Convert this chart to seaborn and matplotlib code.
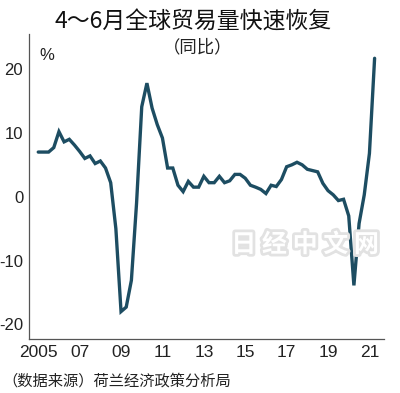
import numpy as np
import pandas as pd
import matplotlib
matplotlib.use("Agg")
import matplotlib.pyplot as plt
import matplotlib.patheffects as pe
import seaborn as sns

# ---- data ----
years = list(range(2005, 2022))
quarters = [1, 2, 3, 4]
growth = [
    7.0, 7.0, 7.0, 7.7,      # 2005
    10.2, 8.6, 9.0, 8.1,     # 2006
    7.1, 6.0, 6.4, 5.2,      # 2007
    5.6, 4.5, 2.2, -5.0,     # 2008
    -18.0, -17.3, -13.1, -1.0,  # 2009
    14.1, 17.8, 13.9, 11.3,  # 2010
    9.2, 4.5, 4.5, 1.8,      # 2011
    0.8, 2.4, 1.5, 1.5,      # 2012
    3.2, 2.2, 2.2, 3.2,      # 2013
    2.2, 2.5, 3.5, 3.5,      # 2014
    2.9, 1.8, 1.5, 1.15,     # 2015
    0.5, 1.8, 1.6, 2.7,      # 2016
    4.7, 5.0, 5.4, 5.0,      # 2017
    4.3, 4.1, 3.9, 2.1,      # 2018
    0.95, 0.3, -0.6, -0.4,   # 2019
    -3.0, -13.9, -4.2, 0.3,  # 2020
    6.8, 21.7,               # 2021
]
x_ticks = [2005, 2007, 2009, 2011, 2013, 2015, 2017, 2019, 2021]
x_tick_labels = ["2005", "07", "09", "11", "13", "15", "17", "19", "21"]
y_ticks = [-20, -10, 0, 10, 20]
y_tick_labels = ["-20", "-10", "0", "10", "20"]
title = "4～6月全球贸易量快速恢复"
subtitle = "（同比）"
unit = "%"
source = "（数据来源）荷兰经济政策分析局"
watermark = "日 经 中 文 网"

periods = [(y, q) for y in years for q in quarters][:len(growth)]
df = pd.DataFrame({
    "time": [y + (q - 1) / 4 for y, q in periods],
    "growth": growth,
})

sns.set_theme(style="white")
plt.rcParams["font.family"] = ["Noto Sans CJK SC", "DejaVu Sans"]
num_font = ["Liberation Sans Narrow", "Liberation Sans", "DejaVu Sans"]

fig = plt.figure(figsize=(4.0, 3.93), dpi=100)
fig.patch.set_facecolor("white")
ax = fig.add_axes([0.0718, 0.1374, 0.888, 0.776])
ax.set_facecolor("white")

sns.lineplot(data=df, x="time", y="growth", ax=ax, color="#1d4d62",
             linewidth=2.4, solid_joinstyle="miter")

ax.set_xlim(2004.54, 2021.70)
ax.set_ylim(-22.3, 25.5)
ax.set_xlabel("")
ax.set_ylabel("")

for s in ["top", "right"]:
    ax.spines[s].set_visible(False)
for s in ["left", "bottom"]:
    ax.spines[s].set_color("#555555")
    ax.spines[s].set_linewidth(0.9)

ax.set_xticks(x_ticks)
ax.set_xticklabels(x_tick_labels, family=num_font, fontsize=12.5, color="#222222")
ax.set_yticks(y_ticks)
ax.set_yticklabels(y_tick_labels, family=num_font, fontsize=12, color="#222222")
ax.tick_params(axis="x", direction="in", length=3, width=0.9, color="#555555", pad=4)
ax.tick_params(axis="y", direction="out", length=3, width=0.9, color="#555555", pad=1)

fig.text(0.483, 1 - 22 / 393, title, ha="center", va="center", fontsize=16.5, color="#111111")
fig.text(0.495, 1 - 47 / 393, subtitle, ha="center", va="center", fontsize=12.5, color="#222222")
fig.text(47 / 400, 1 - 55 / 393, unit, ha="center", va="center", fontsize=12,
         family=num_font, color="#222222")
fig.text(2 / 400, 1 - 381 / 393, source, ha="left", va="center", fontsize=11, color="#222222")

fig.text(305 / 400, 1 - 245 / 393, watermark, ha="center", va="center", fontsize=18,
         color="white", fontweight="bold", zorder=10,
         path_effects=[pe.withStroke(linewidth=4, foreground="#e2e2e2")])

fig.savefig("out.png", dpi=100, facecolor="white")
